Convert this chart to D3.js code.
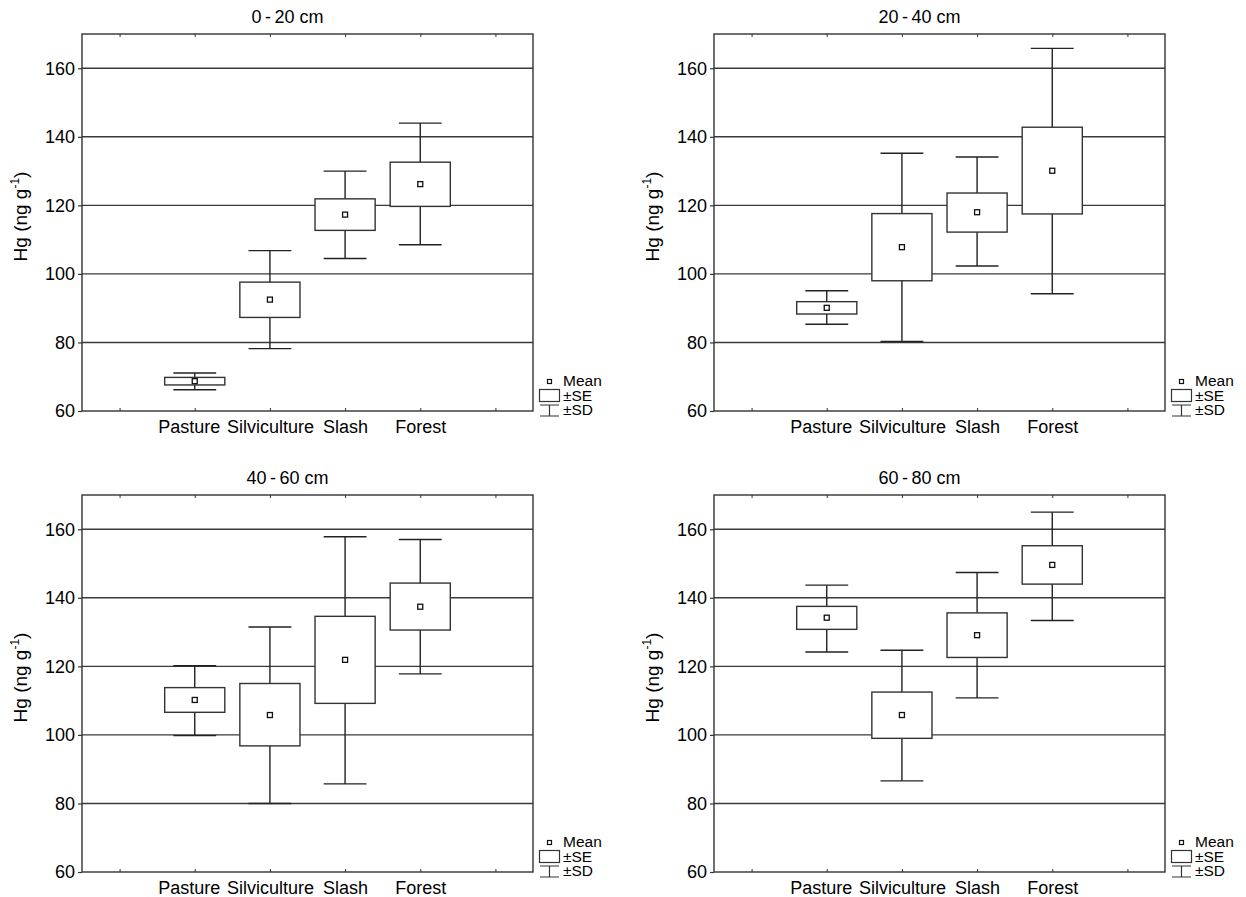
<!DOCTYPE html>
<html>
<head>
<meta charset="utf-8">
<script src="https://cdn.jsdelivr.net/npm/d3@7"></script>
<style>
body { margin: 0; background: #fff; }
svg text { font-family: "Liberation Sans", Arial, sans-serif; fill: #000; }
</style>
</head>
<body>
<script>
(function(){

//categories on the x axis (blank slots at both ends)
var xSlots = ["", "Pasture", "Silviculture", "Slash", "Forest", ""];
var categories = ["Pasture", "Silviculture", "Slash", "Forest"];
var depths = ["0\u2009-\u200920 cm", "20\u2009-\u200940 cm", "40\u2009-\u200960 cm", "60\u2009-\u200980 cm"];
var yTicks = [60, 80, 100, 120, 140, 160];

//values, one row per depth, one column per category
var means  = [[68.7, 92.5, 117.3, 126.2],
              [90.1, 107.8, 118.0, 130.1],
              [110.2, 105.8, 121.9, 137.4],
              [134.2, 105.8, 129.1, 149.6]];
var seLow  = [[67.6, 87.3, 112.7, 119.7],
              [88.3, 98.0, 112.2, 117.5],
              [106.6, 96.8, 109.2, 130.6],
              [130.8, 99.0, 122.6, 144.0]];
var seHigh = [[69.8, 97.6, 121.9, 132.6],
              [91.9, 117.6, 123.6, 142.8],
              [113.8, 115.0, 134.6, 144.3],
              [137.5, 112.5, 135.6, 155.2]];
var sdLow  = [[66.2, 78.2, 104.5, 108.5],
              [85.3, 80.3, 102.3, 94.2],
              [99.8, 80.0, 85.7, 117.8],
              [124.2, 86.6, 110.8, 133.4]];
var sdHigh = [[71.1, 106.8, 130.0, 144.0],
              [95.1, 135.2, 134.1, 165.8],
              [120.2, 131.5, 157.8, 157.0],
              [143.7, 124.7, 147.4, 165.0]];

//panel frame dimensions
var width = 1246, height = 897,
    innerWidth = 451,
    innerHeight = 377,
    panelLeft = [82, 714],
    panelTop = [34, 495];

var svg = d3.select("body")
    .append("svg")
    .attr("width", width)
    .attr("height", height);

var x = d3.scalePoint()
    .domain(d3.range(xSlots.length))
    .range([0, innerWidth])
    .padding(0.5);

var y = d3.scaleLinear()
    .domain([60, 170])
    .range([innerHeight, 0]);

var step = x.step(),
    boxWidth = step * 0.8,
    capWidth = step * 0.57;

depths.forEach(function(depth, p){
    var g = svg.append("g")
        .attr("transform", "translate(" + panelLeft[p % 2] + "," + panelTop[Math.floor(p / 2)] + ")");
    drawPanel(g, p);
});

function drawPanel(g, p){
    //horizontal grid lines
    g.selectAll(".grid")
        .data(yTicks.slice(1))
        .enter()
        .append("line")
        .attr("class", "grid")
        .attr("x1", 0)
        .attr("x2", innerWidth)
        .attr("y1", function(d){ return y(d); })
        .attr("y2", function(d){ return y(d); })
        .attr("stroke", "#3a3a3a")
        .attr("stroke-width", 1.4);

    //frame
    g.append("rect")
        .attr("width", innerWidth)
        .attr("height", innerHeight)
        .attr("fill", "none")
        .attr("stroke", "#333")
        .attr("stroke-width", 1.4);

    //left axis
    var yAxis = g.append("g")
        .call(d3.axisLeft(y).tickValues(yTicks).tickSize(4).tickPadding(3));
    yAxis.select(".domain").remove();
    yAxis.selectAll("line").attr("stroke", "#333").attr("stroke-width", 1.2);
    yAxis.selectAll("text")
        .style("font-family", "'Liberation Sans', Arial, sans-serif")
        .style("font-size", "18px");

    //inward ticks on top and bottom
    var bottomAxis = g.append("g")
        .attr("transform", "translate(0," + innerHeight + ")")
        .call(d3.axisBottom(x).tickSize(-3).tickPadding(9)
            .tickFormat(function(d){ return xSlots[d]; }));
    bottomAxis.select(".domain").remove();
    bottomAxis.selectAll("line").attr("stroke", "#333");
    bottomAxis.selectAll("text")
        .attr("dx", function(d){ return d === 1 ? -6 : 0; })
        .style("font-family", "'Liberation Sans', Arial, sans-serif")
        .style("font-size", "18px");

    var topAxis = g.append("g")
        .call(d3.axisTop(x).tickSize(-3).tickFormat(""));
    topAxis.select(".domain").remove();
    topAxis.selectAll("line").attr("stroke", "#333");

    //title
    g.append("text")
        .attr("x", innerWidth / 2 - 20)
        .attr("y", -11)
        .attr("text-anchor", "middle")
        .style("font-size", "18px")
        .text(depths[p]);

    //y label
    var yLab = g.append("text")
        .attr("transform", "translate(-55," + (innerHeight / 2 - 6) + ") rotate(-90)")
        .attr("text-anchor", "middle")
        .style("font-size", "19px");
    yLab.append("tspan").text("Hg (ng g");
    yLab.append("tspan").attr("dy", -8).style("font-size", "12px").text("-1");
    yLab.append("tspan").attr("dy", 8).text(")");

    //box and whisker marks
    var items = g.selectAll(".item")
        .data(categories)
        .enter()
        .append("g")
        .attr("class", "item")
        .attr("transform", function(d, i){ return "translate(" + x(i + 1) + ",0)"; });

    items.append("line")
        .attr("y1", function(d, i){ return y(sdLow[p][i]); })
        .attr("y2", function(d, i){ return y(sdHigh[p][i]); })
        .attr("stroke", "#222")
        .attr("stroke-width", 1.4);

    [sdLow, sdHigh].forEach(function(arr){
        items.append("line")
            .attr("x1", -capWidth / 2)
            .attr("x2", capWidth / 2)
            .attr("y1", function(d, i){ return y(arr[p][i]); })
            .attr("y2", function(d, i){ return y(arr[p][i]); })
            .attr("stroke", "#222")
            .attr("stroke-width", 1.4);
    });

    items.append("rect")
        .attr("x", -boxWidth / 2)
        .attr("width", boxWidth)
        .attr("y", function(d, i){ return y(seHigh[p][i]); })
        .attr("height", function(d, i){ return y(seLow[p][i]) - y(seHigh[p][i]); })
        .attr("fill", "#fff")
        .attr("stroke", "#333")
        .attr("stroke-width", 1.4);

    items.append("rect")
        .attr("x", -2.5)
        .attr("width", 5)
        .attr("y", function(d, i){ return y(means[p][i]) - 2.5; })
        .attr("height", 5)
        .attr("fill", "#fff")
        .attr("stroke", "#111")
        .attr("stroke-width", 1.3);

    //legend
    var leg = g.append("g")
        .attr("transform", "translate(" + (innerWidth + 6) + "," + (innerHeight - 29.5) + ")");
    leg.append("rect")
        .attr("x", 8.5).attr("y", -2).attr("width", 4).attr("height", 4)
        .attr("fill", "#fff").attr("stroke", "#111").attr("stroke-width", 1.2);
    leg.append("text").attr("x", 24).attr("y", 4.5).style("font-size", "15.5px").text("Mean");
    leg.append("rect")
        .attr("x", 0.5).attr("y", 8).attr("width", 20).attr("height", 12)
        .attr("fill", "#fff").attr("stroke", "#333").attr("stroke-width", 1.2);
    leg.append("text").attr("x", 24).attr("y", 19).style("font-size", "15.5px").text("±SE");
    leg.append("path")
        .attr("d", "M1,23.5H20M10.5,23.5V34.5M1,34.5H20")
        .attr("fill", "none").attr("stroke", "#333").attr("stroke-width", 1.2);
    leg.append("text").attr("x", 24).attr("y", 33).style("font-size", "15.5px").text("±SD");
}

})();
</script>
</body>
</html>
